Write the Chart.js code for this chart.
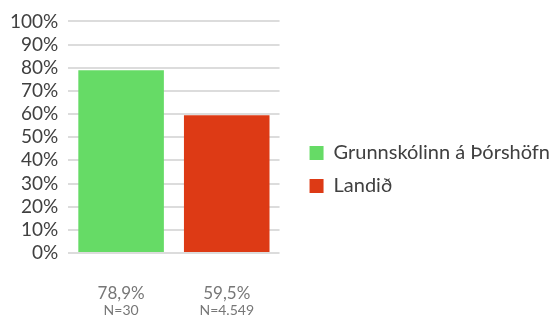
<!DOCTYPE html>
<html>
<head>
<meta charset="utf-8">
<script src="https://cdn.jsdelivr.net/npm/chart.js@4/dist/chart.umd.min.js"></script>
<style>
  html, body { margin: 0; padding: 0; background: #fff; }
  #wrap { width: 560px; height: 324px; }
</style>
</head>
<body>
<div id="wrap"><canvas id="chart"></canvas></div>
<script>
const seriesNames = ['Grunnskólinn á Þórshöfn', 'Landið'];
const values = [78.9, 59.5];
const pctLabels = ['78,9%', '59,5%'];
const nLabels = ['N=30', 'N=4.549'];
const colors = ['#66db66', '#dd3a15'];

// ein Datensatz pro Balken, damit die Legende zwei Einträge hat
const datasets = seriesNames.map((name, i) => ({
  label: name,
  data: values.map((v, j) => (j === i ? v : null)),
  backgroundColor: colors[i],
  borderWidth: 0,
  grouped: false,
  barPercentage: 0.81,
  categoryPercentage: 1
}));

new Chart(document.getElementById('chart'), {
  type: 'bar',
  data: { labels: pctLabels, datasets },
  options: {
    responsive: true,
    maintainAspectRatio: false,
    animation: false,
    layout: { padding: { top: 15, left: 0, right: 0, bottom: 0 } },
    plugins: {
      tooltip: { enabled: false },
      legend: {
        position: 'right',
        maxWidth: 300,
        labels: {
          boxWidth: 14,
          boxHeight: 14,
          padding: 13,
          color: '#404040',
          font: { family: 'Lato', size: 20 }
        }
      }
    },
    scales: {
      x: {
        grid: { display: false, drawTicks: false },
        border: { display: false },
        ticks: { color: '#777', padding: 30, font: { family: 'Lato', size: 17 } },
        afterFit: s => { s.height = 49; }
      },
      x2: {
        type: 'category',
        position: 'bottom',
        labels: nLabels,
        grid: { display: false, drawTicks: false },
        border: { display: false },
        ticks: { color: '#777', padding: 0, font: { family: 'Lato', size: 14 } },
        afterFit: s => { s.height = 22; }
      },
      y: {
        min: 0,
        max: 100,
        ticks: {
          stepSize: 10,
          autoSkip: false,
          padding: 10,
          color: '#404040',
          font: { family: 'Lato', size: 19 },
          callback: v => v + '%'
        },
        grid: { color: '#dcdcdc', lineWidth: 2, drawTicks: false },
        border: { display: false }
      },
      // leere Achse rechts = Abstand zwischen Diagramm und Legende
      gap: {
        type: 'linear',
        position: 'right',
        grid: { display: false, drawTicks: false },
        border: { display: false },
        ticks: { display: false },
        afterFit: s => { s.width = 17; }
      }
    }
  }
});
</script>
</body>
</html>
